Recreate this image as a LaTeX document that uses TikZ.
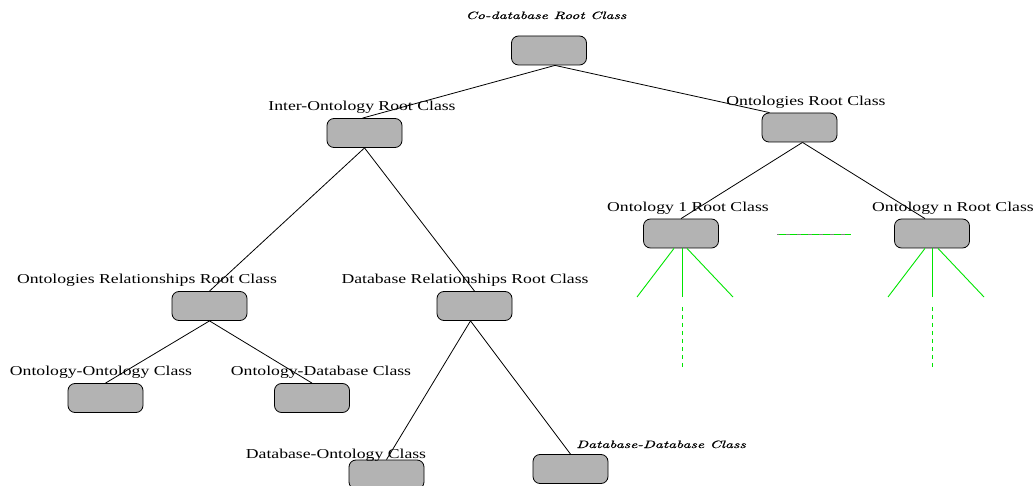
\documentclass[tikz,border=0pt]{standalone}
\usepackage{fontspec}
\usepackage{graphicx}
\setmainfont{Liberation Serif}
\newfontfamily\lmit{lmroman10-italic}[Extension=.otf, FakeBold=0.8]
\newcommand\lblA[1]{\scalebox{1.3}[1]{#1}}
\newcommand\lblI[1]{\scalebox{1.48}[1]{\lmit\fontsize{10.6}{12}\selectfont #1}}
\definecolor{lgreen}{RGB}{0,230,0}
\definecolor{boxgray}{RGB}{179,179,179}
\begin{document}
\begin{tikzpicture}[x=1pt,y=-1pt,
  box/.style={draw, line width=0.8pt, fill=boxgray, rounded corners=7pt,
    minimum width=75pt, minimum height=29pt, inner sep=0pt},
  lab/.style={anchor=base, inner sep=0pt, font=\fontsize{13.6}{16}\selectfont},
  edge/.style={line width=0.8pt, black},
  gline/.style={line width=0.9pt, lgreen},
  gdash/.style={line width=0.9pt, lgreen, dash pattern=on 4pt off 4pt}]
\useasboundingbox (0,0) rectangle (1034,486);
\fill[white] (0,0) rectangle (1034,486);

% boxes
\node[box] (root)   at (549,50.5) {};
\node[box] (inter)  at (364.5,133) {};
\node[box] (onts)   at (799.5,127.5) {};
\node[box] (ont1)   at (681,233.5) {};
\node[box] (ontn)   at (932,233.5) {};
\node[box] (ontrel) at (209.5,306) {};
\node[box] (dbrel)  at (474.5,306) {};
\node[box] (ontont) at (105.5,398) {};
\node[box] (ontdb)  at (312,398) {};
\node[box] (dbont)  at (386.5,474.5) {};
\node[box] (dbdb)   at (570.5,469) {};

% labels
\node[lab] (lroot)   at (546,19)  {\lblI{Co-database Root Class}};
\node[lab] (linter)  at (362,111) {\lblA{Inter-Ontology Root Class}};
\node[lab] (lonts)   at (806,106) {\lblA{Ontologies Root Class}};
\node[lab] (lont1)   at (688,212) {\lblA{Ontology 1 Root Class}};
\node[lab] (lontn)   at (953,212) {\lblA{Ontology n Root Class}};
\node[lab] (lontrel) at (147,284) {\lblA{Ontologies Relationships Root Class}};
\node[lab] (ldbrel)  at (465,284) {\lblA{Database Relationships Root Class}};
\node[lab] (lontont) at (101,376) {\lblA{Ontology-Ontology Class}};
\node[lab] (lontdb)  at (321,376) {\lblA{Ontology-Database Class}};
\node[lab] (ldbont)  at (336,458) {\lblA{Database-Ontology Class}};
\node[lab] (ldbdb)   at (661,448) {\lblI{Database-Database Class}};

% black edges
\draw[edge] ([xshift=6pt]root.south) -- ([xshift=-2pt]inter.north);
\draw[edge] ([xshift=6pt]root.south) -- ([xshift=-30pt]onts.north);
\draw[edge] (inter.south) -- (ontrel.north);
\draw[edge] (inter.south) -- (dbrel.north);
\draw[edge] ([xshift=3pt]onts.south) -- (ont1.north);
\draw[edge] ([xshift=3pt]onts.south) -- ([xshift=-7pt]ontn.north);
\draw[edge] (ontrel.south) -- (ontont.north);
\draw[edge] (ontrel.south) -- (ontdb.north);
\draw[edge] ([xshift=-4pt]dbrel.south) -- (dbont.north);
\draw[edge] ([xshift=-4pt]dbrel.south) -- (dbdb.north);

% green fans
\coordinate (a1) at (637,297);
\coordinate (a2) at (682,297);
\coordinate (a3) at (733,297);
\coordinate (b1) at (888,297);
\coordinate (b2) at (932,297);
\coordinate (b3) at (984,297);
\draw[gline] ([xshift=-7pt]ont1.south) -- (a1);
\draw[gline] ([xshift=1pt]ont1.south) -- (a2);
\draw[gline] ([xshift=6pt]ont1.south) -- (a3);
\draw[gline] ([xshift=-7pt]ontn.south) -- (b1);
\draw[gline] (ontn.south) -- (b2);
\draw[gline] ([xshift=6pt]ontn.south) -- (b3);

% dashed continuations
\coordinate (a4) at (682,307);
\coordinate (a5) at (682,368);
\coordinate (b4) at (932,307);
\coordinate (b5) at (932,368);
\draw[gdash] (a4) -- (a5);
\draw[gdash] (b4) -- (b5);

% horizontal ellipsis line
\coordinate (h1) at (777,234);
\coordinate (h2) at (851,234);
\draw[gline] (h1) -- (h2);
\draw[line width=0.9pt, gray, dash pattern=on 4pt off 7pt, dash phase=-9pt] (h1) -- (h2);
\end{tikzpicture}
\end{document}
